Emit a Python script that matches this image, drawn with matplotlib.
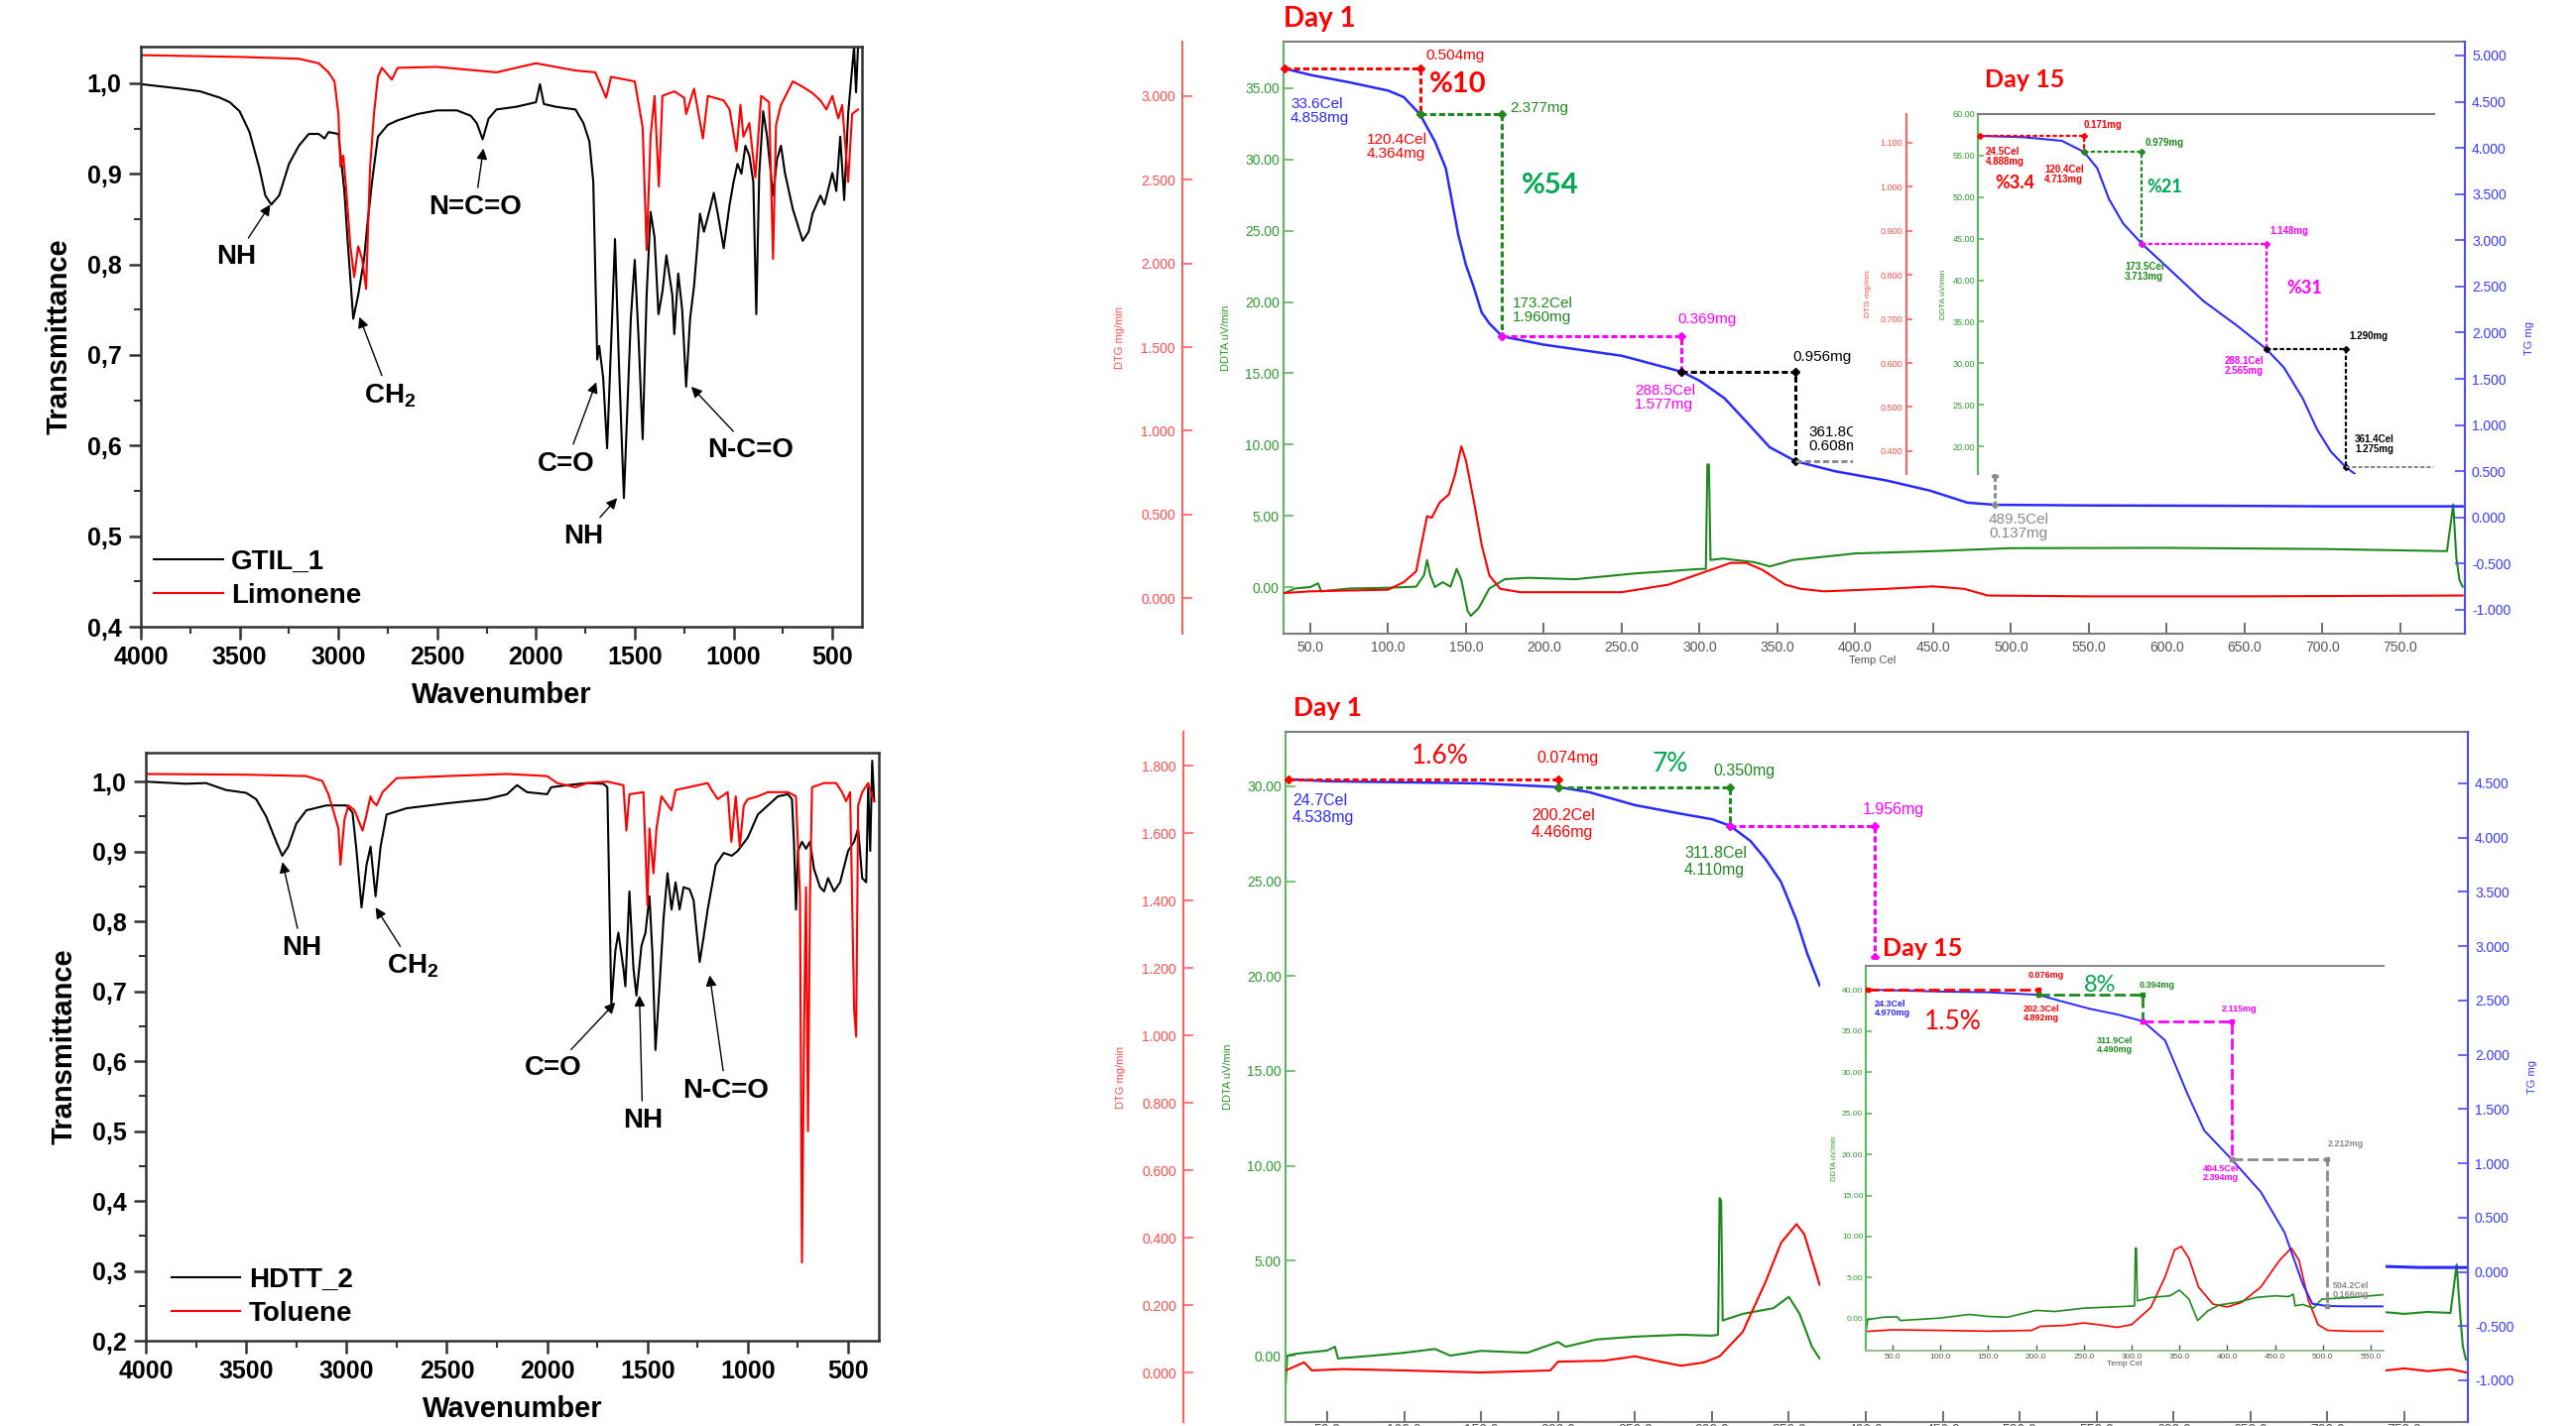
import numpy as np
import matplotlib
matplotlib.use("Agg")
import matplotlib.pyplot as plt
from matplotlib.patches import Rectangle

# ---------------- FTIR data (wavenumber cm-1 / transmittance) ----------------
gtil_wn = [4000,3800,3700,3600,3550,3500,3450,3400,3370,3340,3300,3250,3200,3150,3100,3070,3050,3000,2970,2955,
           2925,2900,2870,2855,2830,2800,2750,2700,2600,2500,2400,2330,2300,2270,2240,2200,2100,2000,1980,1960,
           1900,1800,1760,1730,1710,1690,1680,1660,1640,1615,1600,1580,1555,1520,1500,1480,1460,1440,1420,1400,
           1380,1360,1340,1310,1300,1280,1260,1240,1220,1200,1170,1150,1120,1100,1080,1050,1020,1000,980,960,
           940,920,900,885,870,850,830,800,780,760,740,700,650,620,600,560,540,500,480,460,440,420,400,390,380,370]
gtil_t = [0.999,0.994,0.991,0.984,0.979,0.969,0.946,0.906,0.876,0.866,0.876,0.911,0.931,0.944,0.944,0.939,0.946,0.944,0.881,0.831,
          0.740,0.766,0.806,0.841,0.891,0.941,0.954,0.959,0.966,0.970,0.970,0.964,0.956,0.938,0.961,0.971,0.974,0.979,0.999,0.977,
          0.974,0.971,0.956,0.936,0.891,0.695,0.710,0.675,0.597,0.740,0.828,0.690,0.542,0.740,0.805,0.715,0.607,0.766,0.858,0.830,
          0.745,0.770,0.810,0.766,0.723,0.790,0.750,0.665,0.740,0.776,0.856,0.836,0.861,0.879,0.856,0.818,0.866,0.891,0.911,0.900,
          0.931,0.920,0.891,0.745,0.900,0.969,0.941,0.876,0.916,0.931,0.901,0.861,0.826,0.836,0.856,0.876,0.866,0.901,0.881,0.941,
          0.871,0.966,1.016,1.040,0.990,1.040]
lim_wn = [4000,3500,3200,3100,3050,3020,3000,2990,2975,2960,2940,2920,2900,2880,2860,2840,2820,2800,2780,2730,
          2700,2500,2200,2000,1800,1700,1680,1645,1620,1500,1460,1440,1420,1400,1378,1360,1300,1250,1240,1200,
          1155,1130,1050,1020,985,965,950,920,890,860,820,800,785,760,700,650,600,560,530,500,470,450,420,400,370]
lim_t = [1.031,1.029,1.027,1.022,1.012,1.002,0.966,0.908,0.920,0.881,0.821,0.786,0.820,0.806,0.773,0.906,0.966,1.007,1.017,1.004,
         1.017,1.018,1.012,1.022,1.014,1.012,1.002,0.984,1.007,1.002,0.951,0.816,0.941,0.986,0.886,0.986,0.991,0.984,0.966,0.994,
         0.939,0.986,0.981,0.971,0.925,0.976,0.941,0.956,0.896,0.986,0.979,0.806,0.954,0.976,1.002,0.996,0.989,0.981,0.971,0.986,
         0.961,0.976,0.891,0.966,0.971]
hdtt_wn = [4000,3800,3700,3600,3500,3450,3400,3350,3320,3290,3250,3200,3100,3000,2970,2950,2925,2900,2880,2855,
           2830,2800,2700,2500,2300,2200,2150,2100,2000,1980,1900,1800,1720,1700,1690,1680,1660,1645,1620,1610,
           1590,1570,1555,1530,1510,1490,1475,1460,1440,1420,1400,1380,1360,1340,1320,1290,1270,1250,1240,1220,
           1200,1160,1120,1080,1050,1000,950,900,850,800,780,770,760,750,730,710,690,670,640,620,
           600,570,540,500,470,450,430,410,400,390,380,370]
hdtt_t = [1.000,0.997,0.998,0.988,0.984,0.975,0.950,0.914,0.894,0.907,0.940,0.959,0.966,0.966,0.956,0.901,0.820,0.881,0.907,0.836,
          0.907,0.953,0.962,0.969,0.975,0.982,0.995,0.985,0.982,0.992,0.995,0.998,0.997,0.992,0.836,0.681,0.758,0.784,0.733,0.707,
          0.843,0.733,0.694,0.765,0.784,0.836,0.752,0.616,0.707,0.804,0.869,0.817,0.856,0.817,0.849,0.846,0.830,0.771,0.742,0.778,
          0.817,0.881,0.898,0.894,0.901,0.920,0.953,0.966,0.979,0.982,0.975,0.914,0.817,0.901,0.914,0.904,0.914,0.875,0.849,0.843,
          0.862,0.843,0.856,0.901,0.914,0.933,0.862,0.856,0.992,0.901,1.030,0.972]
tol_wn = [4000,3500,3200,3120,3090,3060,3040,3030,3010,2990,2960,2920,2900,2880,2870,2850,2820,2750,2500,2200,
          2000,1950,1860,1800,1700,1620,1605,1590,1520,1500,1490,1470,1455,1430,1380,1360,1200,1180,1150,1100,
          1082,1060,1040,1020,1000,950,900,800,760,740,730,720,710,700,690,680,620,560,530,510,
          490,470,460,450,430,400,380,370]
tol_t = [1.011,1.010,1.008,1.001,0.982,0.953,0.933,0.881,0.946,0.966,0.959,0.930,0.953,0.979,0.972,0.966,0.985,1.005,1.008,1.011,
         1.008,0.998,0.992,0.998,1.000,0.995,0.930,0.982,0.985,0.823,0.933,0.869,0.933,0.979,0.959,0.988,0.998,0.988,0.975,0.985,
         0.914,0.979,0.907,0.966,0.975,0.979,0.985,0.985,0.979,0.836,0.312,0.640,0.849,0.500,0.836,0.992,0.998,0.998,0.985,0.972,
         0.985,0.674,0.635,0.966,0.985,0.998,0.979,0.972]
ftir_xticks = [4000, 3500, 3000, 2500, 2000, 1500, 1000, 500]

# ---------------- TGA data: top-right (Day 1 main) ----------------
tr_dtg_T = [33,50,75,100,110,118,122,125,128,133,139,143,147,150,155,160,165,172,185,250,
            280,300,320,330,340,355,365,380,420,450,470,485,550,650,790]
tr_dtg_v = [0.03,0.04,0.045,0.05,0.095,0.16,0.35,0.49,0.48,0.57,0.62,0.74,0.907,0.82,0.58,0.32,0.135,0.055,0.035,0.035,
            0.08,0.145,0.21,0.21,0.17,0.08,0.055,0.04,0.055,0.07,0.055,0.015,0.01,0.01,0.015]
tr_ddta_T = [33,40,50,55,57,75,100,118,123,125,127,130,135,140,144,147,151,153,158,165,
             175,190,220,260,300,304,305,306,307,315,335,345,360,400,450,500,600,700,780,784,786,788,790]
tr_ddta_v = [-0.45,-0.1,0.0,0.26,-0.3,-0.1,-0.05,0.03,0.83,1.9,0.83,0.0,0.34,0.03,1.27,0.5,-1.67,-2.02,-1.5,-0.1,
             0.56,0.65,0.55,0.97,1.27,1.27,8.6,8.6,1.9,2.0,1.75,1.45,1.9,2.36,2.52,2.73,2.75,2.67,2.52,5.8,2.05,0.5,0.03]
tr_tg_T = [33.6,50,75,100,110,120.4,130,137,145,150,155,160,165,173.2,200,250,288.5,300,316,332,
           345,361.8,387,420,448,472,489.5,550,650,700,790]
tr_tg_v = [4.858,4.79,4.71,4.62,4.55,4.364,4.07,3.78,3.06,2.73,2.49,2.22,2.10,1.96,1.87,1.75,1.577,1.48,1.29,1.0,
           0.76,0.608,0.50,0.40,0.29,0.16,0.137,0.13,0.125,0.12,0.12]
tr_marks = [(33.6, 4.858), (120.4, 4.364), (173.2, 1.960), (288.5, 1.577), (361.8, 0.608)]
tr_end = (489.5, 0.137)
# top-right inset (Day 15)
tri_tg_T = [24.5,65.2,100.0,120.4,132.6,143.5,156.6,173.5,195.7,230.5,261,288.1,304.5,321.9,335,347.8,361.4,369.7]
tri_tg_v = [4.888,4.873,4.834,4.713,4.535,4.196,3.93,3.713,3.47,3.085,2.82,2.565,2.36,2.022,1.685,1.442,1.275,1.201]
tri_marks = [(24.5, 4.888), (120.4, 4.713), (173.5, 3.713), (288.1, 2.565), (361.4, 1.275)]

# ---------------- TGA data: bottom-right (Day 1 main) ----------------
br_tg_T = [24.7,50,100,150,200.2,220,250,280,300,311.8,325,335,345,355,362,370]
br_tg_v = [4.538,4.52,4.51,4.50,4.466,4.42,4.30,4.22,4.17,4.110,3.97,3.80,3.59,3.24,2.93,2.64]
br_tg_tail_T = [736,760,790]
br_tg_tail_v = [0.05,0.04,0.04]
br_dtg_T = [23,30,35,40,60,100,150,195,200,230,250,260,280,295,305,320,335,345,355,360,365,370]
br_dtg_v = [0.006,0.02,0.03,0.006,0.01,0.006,0.0,0.006,0.032,0.035,0.048,0.038,0.02,0.03,0.048,0.12,0.27,0.385,0.44,0.41,0.336,0.26]
br_dtg_tail_T = [736,750,765,780,790]
br_dtg_tail_v = [0.005,0.012,0.004,0.01,0.0]
br_ddta_T = [23,24,30,50,55,57,80,100,120,130,150,180,200,205,225,250,280,300,304,305,306,307,320,340,350,357,365,370]
br_ddta_v = [-1.5,0.0,0.1,0.27,0.47,-0.15,0.0,0.15,0.35,0.0,0.25,0.15,0.72,0.47,0.85,1.0,1.1,1.05,1.1,8.3,8.15,1.85,2.2,2.5,3.1,2.2,0.47,-0.15]
br_ddta_tail_T = [736,750,765,780,784,786,788,790]
br_ddta_tail_v = [2.3,2.2,2.3,2.25,4.8,2.5,0.5,-0.2]
br_marks = [(24.7, 4.538), (200.2, 4.466), (311.8, 4.110), (405.6, 2.90)]
# bottom-right inset (Day 15)
bri_tg_T = [24.3,50,100,150,202.3,225,256,286,311.9,335,358,376,404.5,435,460,479,489,504.2,530,563]
bri_tg_v = [4.970,4.96,4.94,4.93,4.892,4.80,4.68,4.59,4.490,4.20,3.40,2.83,2.394,1.90,1.28,0.50,0.20,0.166,0.16,0.16]
bri_dtg_T = [22,50,100,150,195,205,230,250,265,285,300,320,335,345,352,360,370,385,400,415,435,455,467,475,485,495,505,530,563]
bri_dtg_v = [-1.53,-1.33,-1.4,-1.5,-1.4,-0.9,-0.8,-0.5,-0.7,-1.03,-0.7,1.37,5.1,8.4,8.8,7.35,3.86,1.8,1.45,2.0,3.86,7.15,8.6,7.15,2.2,-0.7,-1.4,-1.5,-1.5]
bri_ddta_T = [22,24,40,55,58,100,130,150,170,200,220,250,280,303,304,305,306,320,340,350,360,369,380,392,410,430,450,464,469,471,479,490,499,530,563]
bri_ddta_v = [-1.7,-0.1,0.2,0.25,-0.2,0.1,0.54,0.3,0.2,1.03,0.9,1.3,1.45,1.57,8.6,8.6,2.2,2.6,2.8,3.5,2.4,-0.2,1.0,1.7,2.0,2.6,2.8,2.7,3.0,1.6,1.75,1.3,2.4,2.6,2.94]
bri_marks = [(24.3, 4.970), (202.3, 4.892), (311.9, 4.490), (404.5, 2.394), (504.2, 0.166)]

# ---------------- figure setup ----------------
W, H = 2597, 1438
plt.rcParams['font.family'] = ['Liberation Sans', 'DejaVu Sans']
plt.rcParams['mathtext.fontset'] = 'custom'
plt.rcParams['mathtext.rm'] = 'Liberation Sans:bold'
plt.rcParams['mathtext.it'] = 'Liberation Sans:bold'
plt.rcParams['mathtext.bf'] = 'Liberation Sans:bold'
plt.rcParams['mathtext.default'] = 'rm'

fig = plt.figure(figsize=(W / 100, H / 100), dpi=100)
fig.patch.set_facecolor('white')

RED = '#ff0000'
R_AX = '#ff6060'
GREEN = '#1e8a1e'
G_AX = '#5cb85c'
G_TXT = '#2e9a2e'
BLUE = '#2a2aff'
B_AX = '#4a4aff'
MAG = '#ff00ff'
PCTG = '#00a651'
GRAY = '#8a8a8a'
FRAME = '#7a7a7a'


def frac(l, t, r, b):
    return [l / W, 1 - b / H, (r - l) / W, (b - t) / H]


def ptxt(px, py, s, **kw):
    kw.setdefault('ha', 'left')
    kw.setdefault('va', 'center')
    return fig.text(px / W, 1 - py / H, s, **kw)


# ---------------- FTIR panels ----------------
def ftir_panel(rect, wn1, t1, wn2, t2, lab1, lab2, ylo, yhi, xhi, yticks, notes, leg_anchor):
    ax = fig.add_axes(rect)
    ax.plot(wn1, t1, color='black', lw=1.5, label=lab1)
    ax.plot(wn2, t2, color='#ff0000', lw=1.5, label=lab2)
    ax.set_xlim(4000, xhi)
    ax.set_ylim(ylo, yhi)
    ax.set_xticks(ftir_xticks)
    ax.set_xticklabels([str(v) for v in ftir_xticks], fontweight='bold', fontsize=18)
    ax.set_xticks([v - 250 for v in ftir_xticks[:-1]], minor=True)
    ax.set_yticks(yticks)
    ax.set_yticklabels([('%.1f' % v).replace('.', ',') for v in yticks], fontweight='bold', fontsize=18)
    ax.set_yticks([v + 0.05 for v in yticks[:-1]], minor=True)
    ax.tick_params(which='major', direction='out', length=9, width=1.8, color='#333333', pad=5)
    ax.tick_params(which='minor', direction='out', length=5, width=1.5, color='#333333')
    for s in ax.spines.values():
        s.set_linewidth(1.8)
        s.set_color('#333333')
    ax.set_xlabel('Wavenumber', fontsize=21, fontweight='bold', labelpad=8)
    ax.set_ylabel('Transmittance', fontsize=21, fontweight='bold', labelpad=10)
    for s, txy, tip in notes:
        ax.annotate(s, xy=tip, xytext=txy, ha='center', va='center', fontsize=20, fontweight='bold',
                    arrowprops=dict(arrowstyle='-|>', color='black', lw=1.0, mutation_scale=16,
                                    shrinkA=3, shrinkB=0))
    ax.legend(loc='lower left', bbox_to_anchor=leg_anchor, frameon=False,
              prop={'weight': 'bold', 'size': 20}, handlelength=2.5, handletextpad=0.3,
              labelspacing=0.3, borderaxespad=0)
    return ax


ftir_panel(frac(142, 47, 869, 632), gtil_wn, gtil_t, lim_wn, lim_t, 'GTIL_1', 'Limonene',
           0.4, 1.0404, 350, [0.4, 0.5, 0.6, 0.7, 0.8, 0.9, 1.0],
           [('NH', (3519, 0.808), (3345, 0.866)),
            ('CH$_2$', (2741, 0.655), (2894, 0.742)),
            ('N=C=O', (2309, 0.863), (2266, 0.928)),
            ('C=O', (1848, 0.58), (1695, 0.67)),
            ('NH', (1761, 0.50), (1589, 0.542)),
            ('N-C=O', (912, 0.595), (1214, 0.665))],
           (0.003, 0.012))

ftir_panel(frac(147, 759, 886, 1352), hdtt_wn, hdtt_t, tol_wn, tol_t, 'HDTT_2', 'Toluene',
           0.2, 1.0415, 347, [0.2, 0.3, 0.4, 0.5, 0.6, 0.7, 0.8, 0.9, 1.0],
           [('NH', (3222, 0.762), (3319, 0.885)),
            ('CH$_2$', (2669, 0.736), (2855, 0.82)),
            ('C=O', (1968, 0.59), (1660, 0.684)),
            ('NH', (1524, 0.515), (1540, 0.694)),
            ('N-C=O', (1109, 0.558), (1190, 0.723))],
           (0.02, 0.005))


# ---------------- TGA helpers ----------------
def hide_spines(ax):
    for s in ax.spines.values():
        s.set_visible(False)


def set_y(ax, side, ticks, fmt, c_ax, c_txt, fs, length, pad, spine_pos=None):
    sp = ax.spines[side]
    sp.set_visible(True)
    sp.set_color(c_ax)
    sp.set_linewidth(1.5)
    if spine_pos is not None:
        sp.set_position(('axes', spine_pos))
    if side == 'left':
        ax.yaxis.tick_left()
        ax.yaxis.set_label_position('left')
    else:
        ax.yaxis.tick_right()
        ax.yaxis.set_label_position('right')
    ax.set_yticks(ticks)
    ax.set_yticklabels([fmt % v for v in ticks])
    ax.tick_params(axis='y', direction='in', length=length, width=1.2, color=c_ax,
                   labelcolor=c_txt, labelsize=fs, pad=pad)


def steps(ax, marks, colors, lw, dash, ms, mk='D'):
    for i in range(len(marks) - 1):
        (x0, y0), (x1, y1) = marks[i], marks[i + 1]
        ax.plot([x0, x1, x1], [y0, y0, y1], color=colors[i], lw=lw, ls=(0, dash),
                marker=mk, ms=ms, clip_on=False)


def tga_main(rect, xlim, ddta_lim, dtg_lim, tg_lim, ddta_t, dtg_t, tg_t, dtg_off, xt, xpad=5):
    ax = fig.add_axes(rect)
    ax.set_xlim(*xlim)
    ax.set_ylim(*ddta_lim)
    axd = ax.twinx()
    axd.set_ylim(*dtg_lim)
    axt = ax.twinx()
    axt.set_ylim(*tg_lim)
    for a in (ax, axd, axt):
        hide_spines(a)
    for side in ('top', 'bottom'):
        ax.spines[side].set_visible(True)
        ax.spines[side].set_color(FRAME)
        ax.spines[side].set_linewidth(1.5)
    ax.set_xticks(xt)
    ax.set_xticklabels(['%.1f' % v for v in xt])
    ax.tick_params(axis='x', direction='in', length=8, width=1.2, color='#555555',
                   labelcolor='#555555', labelsize=10, pad=xpad)
    set_y(ax, 'left', ddta_t, '%.2f', G_AX, G_TXT, 10, 7, 3)
    set_y(axd, 'left', dtg_t, '%.3f', R_AX, '#ff4d4d', 10, 7, 5, spine_pos=dtg_off)
    set_y(axt, 'right', tg_t, '%.3f', B_AX, '#3a3aff', 10, 7, 5)
    axd.set_ylabel('DTG mg/min', color='#ff4d4d', fontsize=8, labelpad=12)
    ax.set_ylabel('DDTA uV/min', color=G_TXT, fontsize=8, labelpad=10)
    axt.set_ylabel('TG mg', color='#3a3aff', fontsize=8, labelpad=10)
    return ax, axd, axt


# ---------------- top-right TGA ----------------
xt_main = [50, 100, 150, 200, 250, 300, 350, 400, 450, 500, 550, 600, 650, 700, 750]
ax1, ax1d, ax1t = tga_main(frac(1294, 42, 2485, 639), (32.8, 791.5), (-3.27, 38.27), (-0.213, 3.326),
                           (-1.258, 5.15), [0, 5, 10, 15, 20, 25, 30, 35],
                           [0, 0.5, 1.0, 1.5, 2.0, 2.5, 3.0],
                           [-1.0, -0.5, 0, 0.5, 1.0, 1.5, 2.0, 2.5, 3.0, 3.5, 4.0, 4.5, 5.0],
                           -0.0856, xt_main)
ax1d.plot(tr_dtg_T, tr_dtg_v, color=RED, lw=1.5)
ax1.plot(tr_ddta_T, tr_ddta_v, color=GREEN, lw=1.5)
ax1t.plot(tr_tg_T, tr_tg_v, color=BLUE, lw=1.8)
steps(ax1t, tr_marks, [RED, GREEN, MAG, 'black'], 2.2, (2, 1), 4)
ax1t.plot([tr_marks[-1][0], 400], [tr_marks[-1][1], tr_marks[-1][1]], color=GRAY, lw=2.2, ls=(0, (2, 1)))
ax1t.plot([tr_end[0], tr_end[0]], [0.45, tr_end[1]], color=GRAY, lw=2.0, ls=(0, (2, 1)), marker='P', ms=5)
ptxt(1888, 666, 'Temp Cel', ha='center', size=8, color='#555555')
ptxt(1294, 19, 'Day 1', color=RED, size=20, weight='bold', family='Lato')
for px, py, s, c in [(1437, 56, '0.504mg', RED), (1301, 112, '33.6Cel\n4.858mg', BLUE),
                     (1378, 148, '120.4Cel\n4.364mg', RED), (1522, 109, '2.377mg', GREEN),
                     (1525, 313, '173.2Cel\n1.960mg', GREEN), (1691, 322, '0.369mg', MAG),
                     (1648, 401, '288.5Cel\n1.577mg', MAG), (1807, 360, '0.956mg', 'black'),
                     (1823, 443, '361.8Cel\n0.608mg', 'black'), (2005, 531, '489.5Cel\n0.137mg', GRAY)]:
    ptxt(px, py, s, color=c, size=11, linespacing=1.05, zorder=0.5)
ptxt(1441, 85, '%10', color=RED, size=21, weight='bold', family='Lato', zorder=0.5)
ptxt(1534, 187, '%54', color=PCTG, size=21, weight='bold', family='Lato', zorder=0.5)

# white backdrop of the pasted Day-15 chart
fig.add_artist(Rectangle((1868 / W, 1 - 472 / H), (2462 - 1868) / W, (472 - 46) / H,
                         transform=fig.transFigure, facecolor='white', edgecolor='none', zorder=1))

# top-right inset
ax2 = fig.add_axes(frac(1994, 115, 2454, 478), zorder=2)
ax2.set_xlim(22.7, 442.8)
ax2.set_ylim(16.66, 60.0)
ax2d = ax2.twinx()
ax2d.set_zorder(2)
ax2d.set_ylim(0.348, 1.165)
ax2t = ax2.twinx()
ax2t.set_zorder(2)
ax2t.set_ylim(1.199, 5.126)
for a in (ax2, ax2d, ax2t):
    hide_spines(a)
ax2.spines['top'].set_visible(True)
ax2.spines['top'].set_color(FRAME)
ax2.spines['top'].set_linewidth(1.5)
ax2.set_xticks([])
set_y(ax2, 'left', [20, 25, 30, 35, 40, 45, 50, 55, 60], '%.2f', G_AX, G_TXT, 6.5, 4, 2)
set_y(ax2d, 'left', [0.4, 0.5, 0.6, 0.7, 0.8, 0.9, 1.0, 1.1], '%.3f', R_AX, '#ff4d4d', 6.5, 4, 3,
      spine_pos=-0.1565)
ax2t.set_yticks([])
ax2d.set_ylabel('DTG mg/min', color='#ff4d4d', fontsize=6, labelpad=6)
ax2.set_ylabel('DDTA uV/min', color=G_TXT, fontsize=6, labelpad=4)
ax2t.plot(tri_tg_T, tri_tg_v, color=BLUE, lw=1.5)
steps(ax2t, tri_marks, [RED, GREEN, MAG, 'black'], 1.6, (2, 1), 3)
ax2t.plot([tri_marks[-1][0], 442], [tri_marks[-1][1], tri_marks[-1][1]], color=GRAY, lw=1.5, ls=(0, (2, 1)))
ptxt(2001, 80, 'Day 15', color=RED, size=18, weight='bold', family='Lato', zorder=3)
for px, py, s, c in [(2101, 126, '0.171mg', RED), (2002, 158, '24.5Cel\n4.888mg', RED),
                     (2061, 176, '120.4Cel\n4.713mg', RED), (2163, 144, '0.979mg', GREEN),
                     (2142, 274, '173.5Cel\n3.713mg', GREEN), (2288, 233, '1.148mg', MAG),
                     (2243, 369, '288.1Cel\n2.565mg', MAG), (2368, 339, '1.290mg', 'black'),
                     (2374, 448, '361.4Cel\n1.275mg', 'black')]:
    ptxt(px, py, s, color=c, size=7, weight='bold', linespacing=1.1, zorder=3)
ptxt(2011, 184, '%3.4', color=RED, size=13, weight='bold', family='Lato', zorder=3)
ptxt(2164, 188, '%21', color=PCTG, size=13, weight='bold', family='Lato', zorder=3)
ptxt(2305, 291, '%31', color=MAG, size=13, weight='bold', family='Lato', zorder=3)

# ---------------- bottom-right TGA ----------------
ax3, ax3d, ax3t = tga_main(frac(1296, 738, 2488, 1434), (22.9, 791.3), (-3.50, 32.87), (-0.147, 1.9),
                           (-1.384, 4.975), [0, 5, 10, 15, 20, 25, 30],
                           [0, 0.2, 0.4, 0.6, 0.8, 1.0, 1.2, 1.4, 1.6, 1.8],
                           [-1.0, -0.5, 0, 0.5, 1.0, 1.5, 2.0, 2.5, 3.0, 3.5, 4.0, 4.5],
                           -0.0864, xt_main, xpad=1)
ax3d.plot(br_dtg_T, br_dtg_v, color=RED, lw=1.5)
ax3d.plot(br_dtg_tail_T, br_dtg_tail_v, color=RED, lw=1.5)
ax3.plot(br_ddta_T, br_ddta_v, color=GREEN, lw=1.5)
ax3.plot(br_ddta_tail_T, br_ddta_tail_v, color=GREEN, lw=1.5)
ax3t.plot(br_tg_T, br_tg_v, color=BLUE, lw=1.8)
ax3t.plot(br_tg_tail_T, br_tg_tail_v, color=BLUE, lw=2.2)
steps(ax3t, br_marks, [RED, GREEN, MAG], 2.2, (2, 1), 4)
ptxt(1304, 714, 'Day 1', color=RED, size=19, weight='bold', family='Lato')
for px, py, s, c in [(1549, 764, '0.074mg', RED), (1727, 778, '0.350mg', GREEN),
                     (1303, 816, '24.7Cel\n4.538mg', BLUE), (1544, 831, '200.2Cel\n4.466mg', RED),
                     (1698, 869, '311.8Cel\n4.110mg', GREEN), (1878, 816, '1.956mg', MAG)]:
    ptxt(px, py, s, color=c, size=11.5, linespacing=1.15, zorder=0.5)
ptxt(1423, 762, '1.6%', color=RED, size=19, family='Lato', zorder=0.5)
ptxt(1666, 771, '7%', color=PCTG, size=19, family='Lato', zorder=0.5)

fig.add_artist(Rectangle((1835 / W, 1 - 1400 / H), (2405 - 1835) / W, (1400 - 968) / H,
                         transform=fig.transFigure, facecolor='white', edgecolor='none', zorder=1))

# bottom-right inset
ax4 = fig.add_axes(frac(1881, 974, 2403, 1362), zorder=2)
ax4.set_xlim(22, 563.5)
ax4.set_ylim(-3.86, 42.9)
ax4t = ax4.twinx()
ax4t.set_zorder(2)
ax4t.set_ylim(-0.512, 5.331)
for a in (ax4, ax4t):
    hide_spines(a)
for side in ('top', 'bottom'):
    ax4.spines[side].set_visible(True)
    ax4.spines[side].set_color(FRAME if side == 'top' else '#8fb88f')
    ax4.spines[side].set_linewidth(1.3)
xt_in = [50, 100, 150, 200, 250, 300, 350, 400, 450, 500, 550]
ax4.set_xticks(xt_in)
ax4.set_xticklabels(['%.1f' % v for v in xt_in])
ax4.tick_params(axis='x', direction='in', length=4, width=1, color='#555555', labelcolor='#555555',
                labelsize=6, pad=2)
set_y(ax4, 'left', [0, 5, 10, 15, 20, 25, 30, 35, 40], '%.2f', G_AX, G_TXT, 6, 4, 2)
ax4t.set_yticks([])
ax4.set_xlabel('Temp Cel', fontsize=6, color='#555555', labelpad=0)
ax4.set_ylabel('DDTA uV/min', color=G_TXT, fontsize=5.5, labelpad=3)
ax4.plot(bri_dtg_T, bri_dtg_v, color=RED, lw=1.2)
ax4.plot(bri_ddta_T, bri_ddta_v, color=GREEN, lw=1.2)
ax4t.plot(bri_tg_T, bri_tg_v, color=BLUE, lw=1.4)
steps(ax4t, bri_marks, [RED, GREEN, MAG, GRAY], 2.0, (4, 1.5), 3.5, mk='s')
ptxt(1898, 957, 'Day 15', color=RED, size=18, weight='bold', family='Lato', zorder=3)
for px, py, s, c in [(2045, 984, '0.076mg', RED), (2157, 993, '0.394mg', GREEN),
                     (1890, 1017, '24.3Cel\n4.970mg', BLUE), (2040, 1022, '202.3Cel\n4.892mg', RED),
                     (2114, 1054, '311.9Cel\n4.490mg', GREEN), (2240, 1018, '2.115mg', MAG),
                     (2221, 1183, '404.5Cel\n2.394mg', MAG), (2347, 1154, '2.212mg', GRAY),
                     (2352, 1301, '504.2Cel\n0.166mg', GRAY)]:
    ptxt(px, py, s, color=c, size=6.5, weight='bold', linespacing=1.1, zorder=3)
ptxt(1940, 1030, '1.5%', color=RED, size=19, family='Lato', zorder=3)
ptxt(2101, 993, '8%', color=PCTG, size=17, family='Lato', zorder=3)

fig.savefig('out.png', dpi=100, facecolor='white')
